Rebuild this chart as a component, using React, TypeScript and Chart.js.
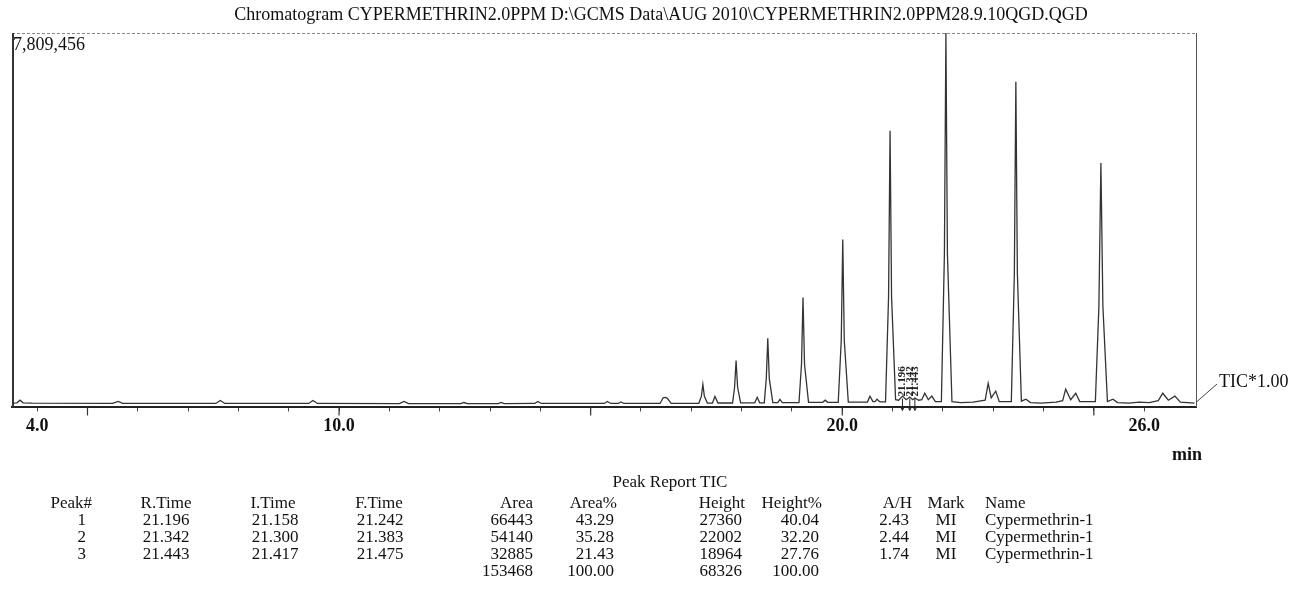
import React, { useEffect, useRef } from "react";
import { Chart, registerables } from "chart.js";

Chart.register(...registerables);

// ---------- chart data ----------
const TITLE =
  "Chromatogram CYPERMETHRIN2.0PPM D:\\GCMS Data\\AUG 2010\\CYPERMETHRIN2.0PPM28.9.10QGD.QGD";
const Y_MAX_LABEL = "7,809,456";
const Y_MAX = 7809456;
const X_MIN = 3.5;
const X_MAX = 27.03;
const TICK_VALUES = [4, 5, 6, 7, 8, 9, 10, 11, 12, 13, 14, 15, 16, 17, 18, 19, 20, 21, 22, 23, 24, 25, 26];
const LABELED_TICKS = [4, 10, 20, 26];
const MAJOR_TICKS = [5, 10, 15, 20, 25];

const TIMES = [
  3.5, 3.6, 3.66, 3.72, 3.9, 5.5, 5.61, 5.7, 7.55, 7.64, 7.73, 9.4, 9.48, 9.57,
  11.2, 11.29, 11.38, 12.42, 12.48, 12.55, 13.16, 13.22, 13.28, 13.89, 13.95, 14.02,
  15.27, 15.33, 15.4, 15.55, 15.6, 15.66, 16.38, 16.44, 16.48, 16.52, 16.6,
  17.15, 17.2, 17.23, 17.26, 17.32, 17.42, 17.47, 17.53, 17.82, 17.86, 17.89, 17.92, 17.98,
  18.26, 18.31, 18.36, 18.45, 18.49, 18.52, 18.55, 18.62, 18.72, 18.76, 18.81,
  19.14, 19.19, 19.22, 19.25, 19.33, 19.61, 19.66, 19.71, 19.92, 19.98, 20.01, 20.04, 20.12,
  20.5, 20.55, 20.61, 20.65, 20.69, 20.75, 20.86, 20.92, 20.95, 20.98, 21.06,
  21.12, 21.196, 21.27, 21.342, 21.4, 21.443, 21.52, 21.58, 21.64, 21.71, 21.78, 21.85,
  21.97, 22.03, 22.06, 22.09, 22.18, 22.35, 22.6, 22.84, 22.9, 22.96, 23.05, 23.12,
  23.36, 23.42, 23.45, 23.48, 23.56, 23.65, 23.74, 23.95, 24.1, 24.25, 24.38, 24.44, 24.54,
  24.64, 24.72, 25.03, 25.1, 25.14, 25.18, 25.27, 25.38, 25.47, 25.7, 25.9, 26.1,
  26.28, 26.37, 26.48, 26.61, 26.72, 27.0,
];

const INTENSITY = [
  90000, 95000, 150000, 95000, 88000, 85000, 125000, 85000, 83000, 145000, 83000, 83000, 145000, 83000,
  80000, 125000, 80000, 80000, 102000, 80000, 80000, 102000, 80000, 82000, 125000, 82000,
  82000, 125000, 82000, 82000, 112000, 82000, 82000, 200000, 210000, 195000, 85000,
  85000, 230000, 480000, 230000, 90000, 90000, 230000, 92000, 92000, 420000, 980000, 420000, 95000,
  95000, 210000, 95000, 95000, 600000, 1440000, 600000, 100000, 100000, 168000, 100000,
  100000, 900000, 2290000, 900000, 105000, 105000, 150000, 105000, 105000, 1400000, 3500000, 1400000, 110000,
  110000, 235000, 120000, 120000, 170000, 115000, 115000, 2300000, 5770000, 2300000, 160000,
  150000, 235000, 160000, 215000, 160000, 195000, 150000, 160000, 295000, 160000, 235000, 120000,
  120000, 3200000, 7809456, 3200000, 120000, 100000, 110000, 150000, 500000, 200000, 340000, 120000,
  120000, 2800000, 6790000, 2800000, 130000, 170000, 100000, 90000, 100000, 110000, 140000, 380000, 160000,
  295000, 120000, 120000, 2100000, 5100000, 2100000, 120000, 170000, 100000, 90000, 110000, 100000,
  140000, 295000, 150000, 235000, 110000, 90000,
];

const PEAK_LABEL_TIMES = [21.196, 21.342, 21.443];
const TRACE_LABEL = "TIC*1.00";
const X_UNIT = "min";

// ---------- peak report table ----------
const REPORT_TITLE = "Peak Report TIC";
const HEADERS = ["Peak#", "R.Time", "I.Time", "F.Time", "Area", "Area%", "Height", "Height%", "A/H", "Mark", "Name"];
const PEAK_NUMS = ["1", "2", "3"];
const R_TIMES = ["21.196", "21.342", "21.443"];
const I_TIMES = ["21.158", "21.300", "21.417"];
const F_TIMES = ["21.242", "21.383", "21.475"];
const AREAS = ["66443", "54140", "32885"];
const AREA_PCT = ["43.29", "35.28", "21.43"];
const HEIGHTS = ["27360", "22002", "18964"];
const HEIGHT_PCT = ["40.04", "32.20", "27.76"];
const AH_RATIO = ["2.43", "2.44", "1.74"];
const MARKS = ["MI", "MI", "MI"];
const NAMES = ["Cypermethrin-1", "Cypermethrin-1", "Cypermethrin-1"];
const TOTAL_AREA = "153468";
const TOTAL_AREA_PCT = "100.00";
const TOTAL_HEIGHT = "68326";
const TOTAL_HEIGHT_PCT = "100.00";

const SERIF = "'Liberation Serif', 'Times New Roman', serif";

type Align = "left" | "right" | "center";
// column anchor x and alignment (values, header)
const COLS: { x: number; hx: number; align: Align; halign: Align }[] = [
  { x: 86, hx: 92, align: "right", halign: "right" },
  { x: 166, hx: 166, align: "center", halign: "center" },
  { x: 275, hx: 273, align: "center", halign: "center" },
  { x: 380, hx: 379, align: "center", halign: "center" },
  { x: 533, hx: 533, align: "right", halign: "right" },
  { x: 614, hx: 617, align: "right", halign: "right" },
  { x: 742, hx: 745, align: "right", halign: "right" },
  { x: 819, hx: 822, align: "right", halign: "right" },
  { x: 909, hx: 912, align: "right", halign: "right" },
  { x: 946, hx: 946, align: "center", halign: "center" },
  { x: 985, hx: 985, align: "left", halign: "left" },
];
const ROW_Y = [503, 520, 537, 554, 571];

function Cell({ text, x, y, align }: { text: string; x: number; y: number; align: Align }) {
  const style: React.CSSProperties = {
    position: "absolute",
    top: y - 10,
    lineHeight: "20px",
    fontFamily: SERIF,
    fontSize: 17,
    color: "#111",
    whiteSpace: "nowrap",
  };
  if (align === "left") style.left = x;
  else if (align === "right") style.right = 1292 - x;
  else {
    style.left = x;
    style.transform = "translateX(-50%)";
  }
  return <div style={style}>{text}</div>;
}

export default function App() {
  const canvasRef = useRef<HTMLCanvasElement | null>(null);

  useEffect(() => {
    document.body.style.margin = "0";
    document.body.style.overflow = "hidden";
    const canvas = canvasRef.current;
    if (!canvas) return;

    const decor = {
      id: "decor",
      afterDraw(chart: any) {
        const { ctx, chartArea } = chart;
        const xs = chart.scales.x;
        const ys = chart.scales.y;
        const { left, right, top, bottom } = chartArea;
        ctx.save();
        // frame
        ctx.strokeStyle = "#888";
        ctx.lineWidth = 1;
        ctx.setLineDash([3, 2]);
        ctx.beginPath();
        ctx.moveTo(left, top + 0.5);
        ctx.lineTo(right, top + 0.5);
        ctx.stroke();
        ctx.setLineDash([]);
        ctx.strokeStyle = "#333";
        ctx.lineWidth = 2;
        ctx.beginPath();
        ctx.moveTo(left + 1, top);
        ctx.lineTo(left + 1, bottom);
        ctx.stroke();
        ctx.strokeStyle = "#555";
        ctx.lineWidth = 1;
        ctx.beginPath();
        ctx.moveTo(right + 0.5, top);
        ctx.lineTo(right + 0.5, bottom);
        ctx.stroke();
        // major ticks (longer)
        ctx.strokeStyle = "#333";
        ctx.lineWidth = 1.2;
        MAJOR_TICKS.forEach((v) => {
          const x = xs.getPixelForValue(v);
          ctx.beginPath();
          ctx.moveTo(x, bottom);
          ctx.lineTo(x, bottom + 8);
          ctx.stroke();
        });
        // title
        ctx.fillStyle = "#111";
        ctx.font = `18px ${SERIF}`;
        ctx.textAlign = "center";
        ctx.textBaseline = "middle";
        ctx.fillText(TITLE, 661, 15);
        // y max label
        ctx.textAlign = "left";
        ctx.fillText(Y_MAX_LABEL, left + 1, top + 12);
        // unit
        ctx.font = `bold 18px ${SERIF}`;
        ctx.fillText(X_UNIT, 1172, 455);
        // trace label + leader
        ctx.font = `18px ${SERIF}`;
        ctx.fillText(TRACE_LABEL, 1219, 382);
        ctx.strokeStyle = "#444";
        ctx.lineWidth = 1;
        ctx.beginPath();
        ctx.moveTo(right, bottom - 5);
        ctx.lineTo(1217, 384);
        ctx.stroke();
        // peak labels
        PEAK_LABEL_TIMES.forEach((t) => {
          const x = xs.getPixelForValue(t);
          const base = ys.getPixelForValue(100000);
          ctx.save();
          ctx.translate(x, base - 6);
          ctx.rotate(-Math.PI / 2);
          ctx.font = `bold 11px ${SERIF}`;
          ctx.textAlign = "left";
          ctx.textBaseline = "middle";
          ctx.fillStyle = "#222";
          ctx.fillText(t.toFixed(3), 0, 0);
          ctx.restore();
          ctx.strokeStyle = "#222";
          ctx.lineWidth = 1;
          ctx.beginPath();
          ctx.moveTo(x, base - 4);
          ctx.lineTo(x, bottom + 3);
          ctx.moveTo(x - 2, bottom - 1);
          ctx.lineTo(x, bottom + 3);
          ctx.lineTo(x + 2, bottom - 1);
          ctx.stroke();
        });
        ctx.restore();
      },
    };

    const chart = new Chart(canvas, {
      type: "line",
      data: {
        datasets: [
          {
            data: TIMES.map((t, i) => ({ x: t, y: INTENSITY[i] })),
            borderColor: "#333",
            borderWidth: 1.3,
            pointRadius: 0,
            tension: 0,
            fill: false,
          },
        ],
      },
      options: {
        animation: false,
        responsive: false,
        devicePixelRatio: 1,
        layout: { padding: { left: 12, right: 96, top: 33, bottom: 155 } },
        plugins: { legend: { display: false }, tooltip: { enabled: false }, title: { display: false } },
        scales: {
          x: {
            type: "linear",
            min: X_MIN,
            max: X_MAX,
            afterBuildTicks: (scale: any) => {
              scale.ticks = TICK_VALUES.map((v) => ({ value: v }));
            },
            ticks: {
              autoSkip: false,
              maxRotation: 0,
              padding: 4,
              color: "#111",
              font: { family: SERIF, size: 18, weight: "bold" },
              callback: (v: any) => (LABELED_TICKS.includes(Number(v)) ? Number(v).toFixed(1) : ""),
            },
            grid: { drawOnChartArea: false, drawTicks: true, tickLength: 4, color: "#444", lineWidth: 1 },
            border: { display: true, color: "#222", width: 2 },
          },
          y: { display: false, min: 0, max: Y_MAX },
        },
      },
      plugins: [decor],
    } as any);

    return () => chart.destroy();
  }, []);

  const rows: string[][] = PEAK_NUMS.map((p, i) => [
    p, R_TIMES[i], I_TIMES[i], F_TIMES[i], AREAS[i], AREA_PCT[i], HEIGHTS[i], HEIGHT_PCT[i], AH_RATIO[i], MARKS[i], NAMES[i],
  ]);
  const totals = ["", "", "", "", TOTAL_AREA, TOTAL_AREA_PCT, TOTAL_HEIGHT, TOTAL_HEIGHT_PCT, "", "", ""];

  return (
    <div style={{ position: "relative", width: 1292, height: 596, background: "#fff", overflow: "hidden" }}>
      <canvas ref={canvasRef} width={1292} height={596} style={{ position: "absolute", left: 0, top: 0 }} />
      <Cell text={REPORT_TITLE} x={670} y={482} align="center" />
      {HEADERS.map((h, c) => (
        <Cell key={"h" + c} text={h} x={COLS[c].hx} y={ROW_Y[0]} align={COLS[c].halign} />
      ))}
      {rows.map((r, ri) =>
        r.map((t, c) => <Cell key={ri + "-" + c} text={t} x={COLS[c].x} y={ROW_Y[ri + 1]} align={COLS[c].align} />)
      )}
      {totals.map((t, c) => (t ? <Cell key={"t" + c} text={t} x={COLS[c].x} y={ROW_Y[4]} align={COLS[c].align} /> : null))}
    </div>
  );
}
